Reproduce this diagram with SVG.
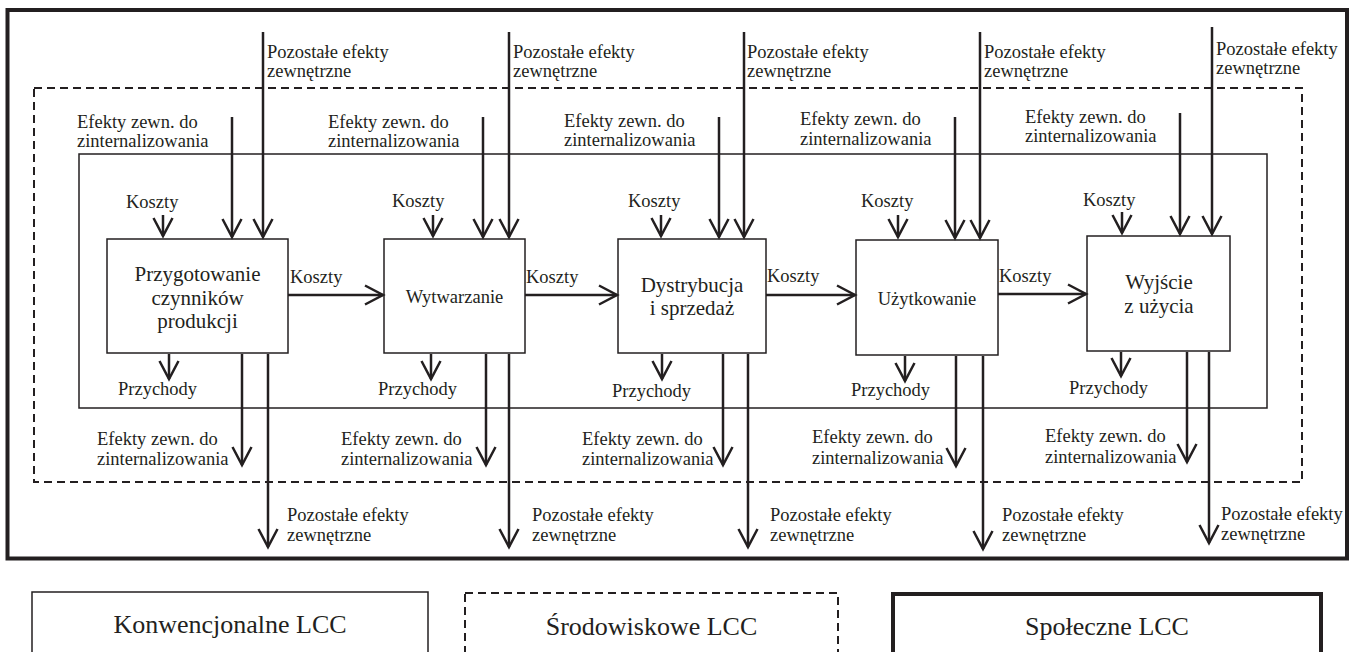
<svg xmlns="http://www.w3.org/2000/svg" width="1352" height="652" viewBox="0 0 1352 652">
<defs>
<style>
text{font-family:"Liberation Serif","Times New Roman",serif;fill:#231f20}
.s{font-size:18.5px}
.b{font-size:21px}
.l{font-size:26px}
.mid{text-anchor:middle}
.box{fill:#fff;stroke:#231f20;stroke-width:1.5}
.thin{fill:none;stroke:#231f20;stroke-width:1.5}
.dash{fill:none;stroke:#231f20;stroke-width:2;stroke-dasharray:8 5}
.thick{fill:none;stroke:#231f20;stroke-width:4}
.arr{fill:none;stroke:#231f20;stroke-width:2.5;marker-end:url(#ah)}
</style>
<marker id="ah" markerUnits="userSpaceOnUse" markerWidth="26" markerHeight="26" viewBox="-22 -13 26 26" refX="0" refY="0" orient="auto">
<path d="M-18,-9.5 L0,0 L-18,9.5" fill="none" stroke="#231f20" stroke-width="2.5"/>
</marker>
</defs>
<rect width="1352" height="652" fill="#fff"/>

<g id="frame-social"><rect class="thick" x="7.5" y="10" width="1339.5" height="548.5"/></g>
<g id="frame-env"><rect class="dash" x="34" y="88" width="1268" height="394"/></g>
<g id="frame-conv"><rect class="thin" x="79" y="154" width="1188" height="254"/></g>

<g id="node-1">
<rect class="box" x="107" y="239" width="181" height="114"/>
<text class="b mid" x="197.5" y="281">Przygotowanie</text>
<text class="b mid" x="197.5" y="305">czynników</text>
<text class="b mid" x="197.5" y="328">produkcji</text>
</g>
<g id="node-2">
<rect class="box" x="384" y="239" width="141" height="114"/>
<text class="s mid" x="454.5" y="303">Wytwarzanie</text>
</g>
<g id="node-3">
<rect class="box" x="618" y="239" width="148" height="114"/>
<text class="b mid" x="692" y="292">Dystrybucja</text>
<text class="b mid" x="692" y="315">i sprzedaż</text>
</g>
<g id="node-4">
<rect class="box" x="856" y="240" width="142" height="115"/>
<text class="s mid" x="927" y="305">Użytkowanie</text>
</g>
<g id="node-5">
<rect class="box" x="1087" y="236" width="143" height="115"/>
<text class="b mid" x="1159" y="289">Wyjście</text>
<text class="b mid" x="1159" y="313">z użycia</text>
</g>

<g id="connectors">
<!-- stage 1 -->
<line class="arr" x1="163" y1="215" x2="163" y2="236"/>
<line class="arr" x1="232" y1="117" x2="232" y2="237"/>
<line class="arr" x1="263" y1="32" x2="263" y2="237"/>
<line class="arr" x1="169" y1="354" x2="169" y2="379"/>
<line class="arr" x1="242" y1="354" x2="242" y2="465"/>
<line class="arr" x1="268" y1="354" x2="268" y2="547"/>
<!-- stage 2 -->
<line class="arr" x1="433" y1="215" x2="433" y2="236"/>
<line class="arr" x1="483" y1="117" x2="483" y2="237"/>
<line class="arr" x1="509" y1="32" x2="509" y2="237"/>
<line class="arr" x1="431" y1="354" x2="431" y2="379"/>
<line class="arr" x1="486" y1="354" x2="486" y2="465"/>
<line class="arr" x1="509" y1="354" x2="509" y2="547"/>
<!-- stage 3 -->
<line class="arr" x1="661" y1="215" x2="661" y2="236"/>
<line class="arr" x1="719" y1="117" x2="719" y2="237"/>
<line class="arr" x1="744" y1="32" x2="744" y2="237"/>
<line class="arr" x1="662" y1="354" x2="662" y2="379"/>
<line class="arr" x1="723" y1="354" x2="723" y2="465"/>
<line class="arr" x1="748" y1="354" x2="748" y2="547"/>
<!-- stage 4 -->
<line class="arr" x1="898" y1="215" x2="898" y2="237"/>
<line class="arr" x1="955" y1="117" x2="955" y2="238"/>
<line class="arr" x1="980" y1="32" x2="980" y2="238"/>
<line class="arr" x1="905" y1="356" x2="905" y2="381"/>
<line class="arr" x1="956" y1="356" x2="956" y2="466"/>
<line class="arr" x1="983" y1="356" x2="983" y2="549"/>
<!-- stage 5 -->
<line class="arr" x1="1122" y1="212" x2="1122" y2="233"/>
<line class="arr" x1="1180" y1="113" x2="1180" y2="234"/>
<line class="arr" x1="1212" y1="27" x2="1212" y2="234"/>
<line class="arr" x1="1121" y1="352" x2="1121" y2="376"/>
<line class="arr" x1="1187" y1="352" x2="1187" y2="462"/>
<line class="arr" x1="1209" y1="352" x2="1209" y2="543"/>
<!-- flows between stages -->
<line class="arr" x1="288" y1="295" x2="383" y2="295"/>
<line class="arr" x1="525" y1="295" x2="617" y2="295"/>
<line class="arr" x1="766" y1="295" x2="855" y2="295"/>
<line class="arr" x1="998" y1="294" x2="1086" y2="294"/>
</g>

<g id="labels">
<!-- top: Pozostałe efekty zewnętrzne -->
<text class="s" x="267" y="58">Pozostałe efekty</text><text class="s" x="267" y="77">zewnętrzne</text>
<text class="s" x="513" y="58">Pozostałe efekty</text><text class="s" x="513" y="77">zewnętrzne</text>
<text class="s" x="747" y="58">Pozostałe efekty</text><text class="s" x="747" y="77">zewnętrzne</text>
<text class="s" x="984" y="58">Pozostałe efekty</text><text class="s" x="984" y="77">zewnętrzne</text>
<text class="s" x="1216" y="55">Pozostałe efekty</text><text class="s" x="1216" y="74">zewnętrzne</text>
<!-- top: Efekty zewn. do zinternalizowania -->
<text class="s" x="77" y="128">Efekty zewn. do</text><text class="s" x="77" y="147">zinternalizowania</text>
<text class="s" x="328" y="128">Efekty zewn. do</text><text class="s" x="328" y="147">zinternalizowania</text>
<text class="s" x="564" y="127">Efekty zewn. do</text><text class="s" x="564" y="146">zinternalizowania</text>
<text class="s" x="800" y="125">Efekty zewn. do</text><text class="s" x="800" y="145">zinternalizowania</text>
<text class="s" x="1025" y="123">Efekty zewn. do</text><text class="s" x="1025" y="142">zinternalizowania</text>
<!-- Koszty above boxes -->
<text class="s" x="126" y="208">Koszty</text>
<text class="s" x="392" y="207">Koszty</text>
<text class="s" x="628" y="207">Koszty</text>
<text class="s" x="861" y="207">Koszty</text>
<text class="s" x="1083" y="206">Koszty</text>
<!-- Koszty between boxes -->
<text class="s" x="290" y="283">Koszty</text>
<text class="s" x="526" y="283">Koszty</text>
<text class="s" x="767" y="282">Koszty</text>
<text class="s" x="999" y="282">Koszty</text>
<!-- Przychody -->
<text class="s" x="118" y="395">Przychody</text>
<text class="s" x="378" y="395">Przychody</text>
<text class="s" x="612" y="397">Przychody</text>
<text class="s" x="851" y="396">Przychody</text>
<text class="s" x="1069" y="394">Przychody</text>
<!-- bottom: Efekty zewn. do zinternalizowania -->
<text class="s" x="97" y="445">Efekty zewn. do</text><text class="s" x="97" y="465">zinternalizowania</text>
<text class="s" x="341" y="445">Efekty zewn. do</text><text class="s" x="341" y="465">zinternalizowania</text>
<text class="s" x="582" y="445">Efekty zewn. do</text><text class="s" x="582" y="465">zinternalizowania</text>
<text class="s" x="812" y="443">Efekty zewn. do</text><text class="s" x="812" y="464">zinternalizowania</text>
<text class="s" x="1045" y="442">Efekty zewn. do</text><text class="s" x="1045" y="463">zinternalizowania</text>
<!-- bottom: Pozostałe efekty zewnętrzne -->
<text class="s" x="287" y="521">Pozostałe efekty</text><text class="s" x="287" y="541">zewnętrzne</text>
<text class="s" x="532" y="521">Pozostałe efekty</text><text class="s" x="532" y="541">zewnętrzne</text>
<text class="s" x="770" y="521">Pozostałe efekty</text><text class="s" x="770" y="541">zewnętrzne</text>
<text class="s" x="1002" y="521">Pozostałe efekty</text><text class="s" x="1002" y="541">zewnętrzne</text>
<text class="s" x="1221" y="520">Pozostałe efekty</text><text class="s" x="1221" y="540">zewnętrzne</text>
</g>

<g id="legend-conventional">
<rect class="thin" x="32" y="592" width="396" height="80"/>
<text class="l mid" x="230" y="633">Konwencjonalne LCC</text>
</g>
<g id="legend-environmental">
<rect class="dash" x="465" y="593" width="373" height="80"/>
<text class="l mid" x="651.5" y="635">Środowiskowe LCC</text>
</g>
<g id="legend-social">
<rect class="thick" x="893" y="594" width="428" height="80"/>
<text class="l mid" x="1107" y="635">Społeczne LCC</text>
</g>
</svg>
